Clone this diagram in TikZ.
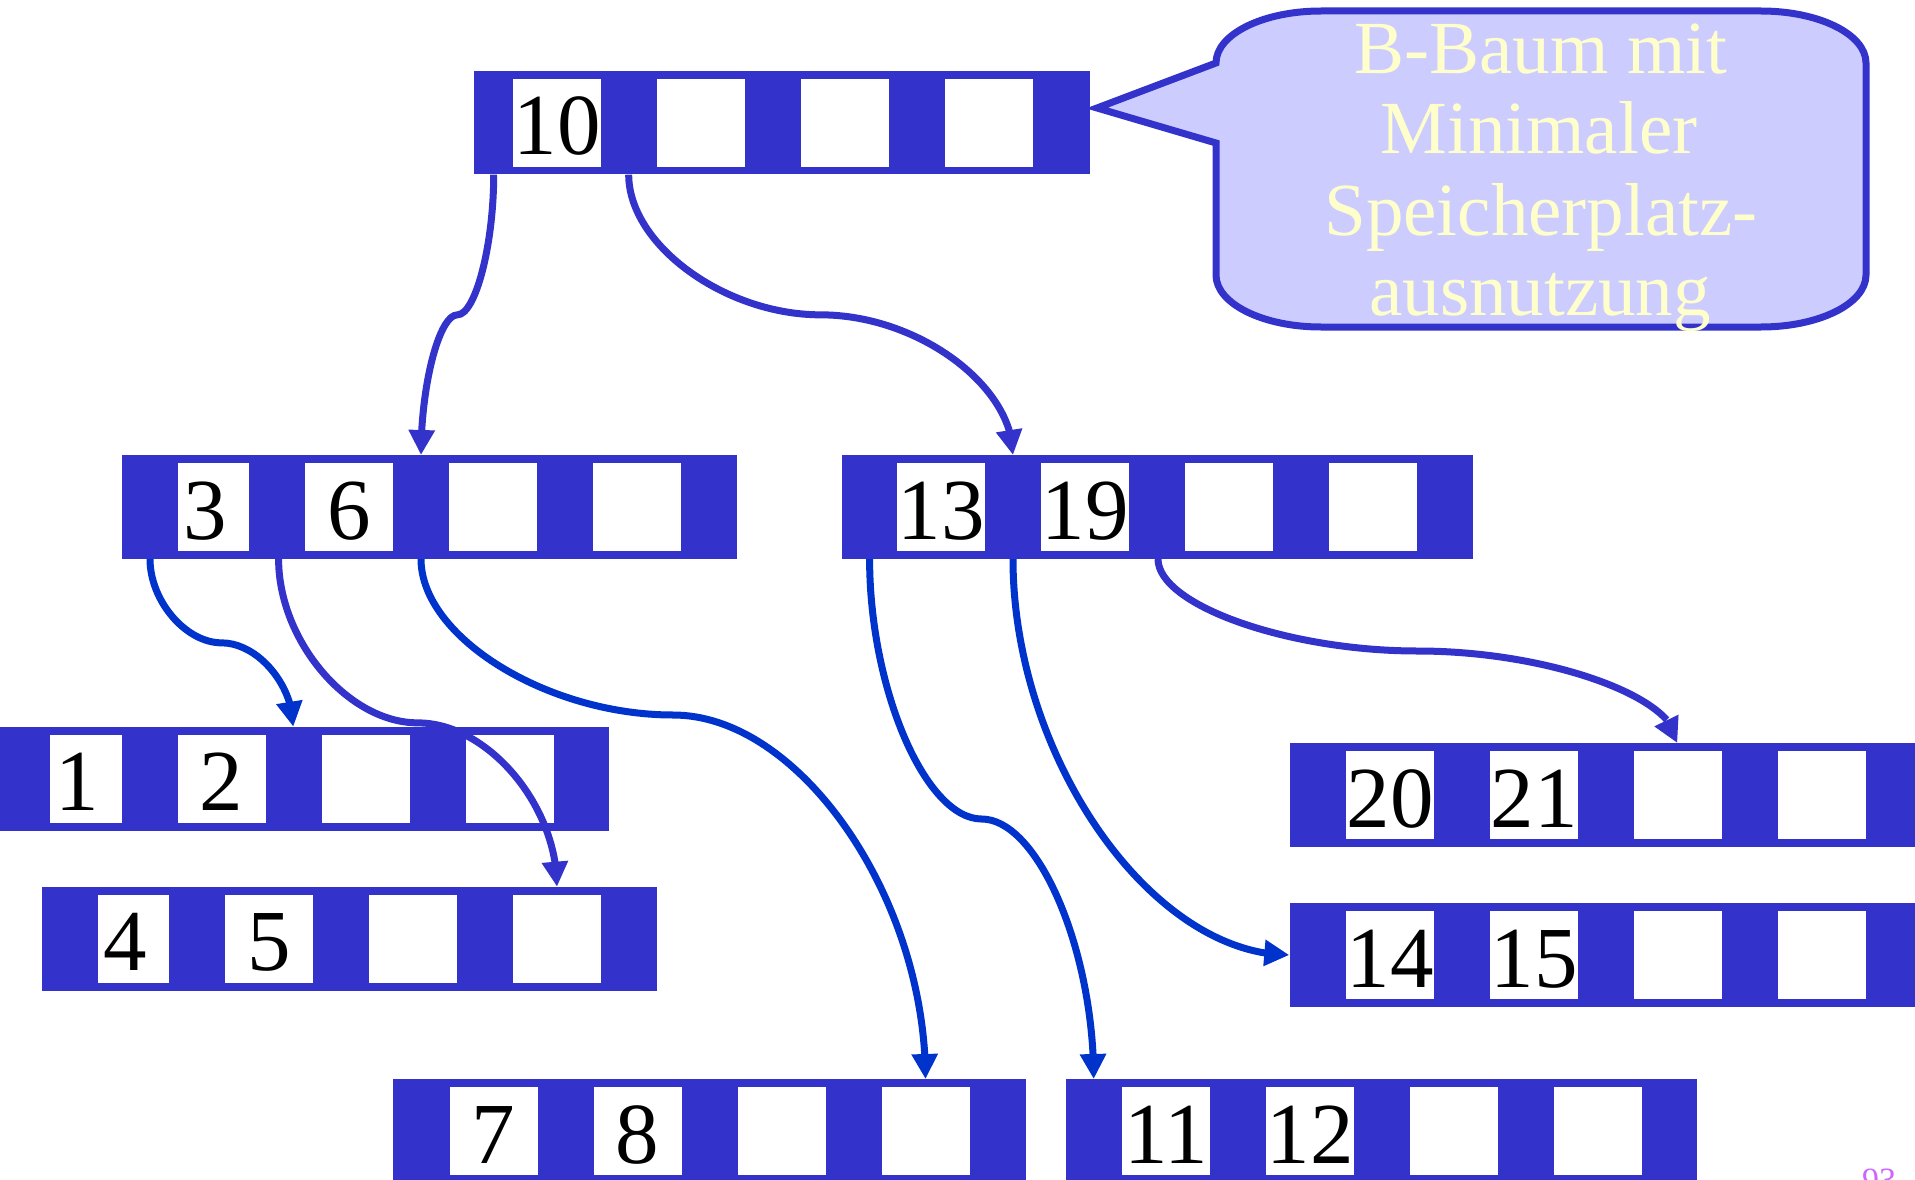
\documentclass[tikz,border=0pt]{standalone}
\usepackage{fontspec}
\setmainfont{Liberation Serif}
\usetikzlibrary{arrows.meta,bending,calc}
\definecolor{nodeblue}{HTML}{3333CC}
\definecolor{linkblue}{HTML}{0033CC}
\definecolor{calloutfill}{HTML}{CCCCFF}
\definecolor{callouttext}{HTML}{FFFFCC}
\definecolor{pagenum}{HTML}{CC66FF}
\tikzset{
  bnode/.style={rectangle, fill=nodeblue, draw=none, inner sep=0pt, minimum height=103.6pt, anchor=north west},
  cellbox/.style={rectangle, fill=white, draw=none, inner sep=0pt, minimum height=88pt, anchor=north west},
  keytext/.style={inner sep=0pt, anchor=base, font=\fontsize{87}{87}\selectfont, text=black},
  linkA/.style={draw=nodeblue, line width=7pt, -{Triangle[length=25pt,width=25pt,flex]}},
  linkB/.style={linkA, draw=linkblue},
  callbox/.style={draw=nodeblue, fill=calloutfill, line width=7pt, line join=miter},
  calltext/.style={inner sep=0pt, anchor=base, font=\fontsize{75}{80}\selectfont, text=callouttext},
  pagetext/.style={inner sep=0pt, anchor=base, font=\fontsize{34}{34}\selectfont, text=pagenum}
}
% #1 name, #2 left, #3 top, #4 left margin, #5 width, #6 narrowing of first cell, #7 key 1, #8 key 2
\newcommand\bnode[8]{%
  \node[bnode, minimum width=#5pt] (#1) at (#2,#3) {};
  \node[cellbox, minimum width={88-#6}] (#1-c0) at ({#2+#4+#6},{#3+8}) {};
  \node[cellbox, minimum width=88pt] (#1-c1) at ({#2+#4+144},{#3+8}) {};
  \node[cellbox, minimum width=88pt] (#1-c2) at ({#2+#4+288},{#3+8}) {};
  \node[cellbox, minimum width=88pt] (#1-c3) at ({#2+#4+432},{#3+8}) {};
  \node[keytext] (#1-k0) at ({#2+#4+44},{#3+84}) {#7};
  \if\relax\detokenize{#8}\relax\else
  \node[keytext] (#1-k1) at ({#2+#4+188},{#3+84}) {#8};
  \fi
}
% curved connector with vertical ends; #1 = position of the middle bend
\newcommand\vcurve[4][0.5]{%
  \draw[#2] let \p1=(#3), \p2=(#4), \p3=($(\p1)!#1!(\p2)$) in
    (\p1) .. controls (\x1,{(\y1+\y3)/2}) and ({(3*\x1+\x2)/4},\y3) ..
    ({(\x1+\x2)/2},\y3) .. controls ({(\x1+3*\x2)/4},\y3) and (\x2,{(\y3+\y2)/2}) .. (\p2);
}
\begin{document}
\begin{tikzpicture}[x=1pt,y=-1pt]
\useasboundingbox (0,0) rectangle (1915,1180);
\clip (0,0) rectangle (1915,1180);

\bnode{root}{473.7}{70.7}{39.3}{615.6}{0}{10}{}
\bnode{n36}{121.4}{455}{39.6}{615.2}{16.7}{3}{6}
\bnode{n1319}{842}{455}{55}{630.3}{0}{13}{19}
\bnode{n12}{-6}{726.7}{39.4}{615}{16}{1}{2}
\bnode{n45}{41.6}{886.7}{39.4}{615.4}{16.6}{4}{5}
\bnode{n2021}{1289.3}{743}{56.7}{640}{0}{20}{21}
\bnode{n1415}{1289.3}{903}{56.7}{640}{0}{14}{15}
\bnode{n78}{392.7}{1079}{56.8}{632.8}{0}{7}{8}
\bnode{n1112}{1065.3}{1079}{56.7}{631.7}{0}{11}{12}

% callout
\draw[callbox] (1097,108) -- (1216,63)
  arc[start angle=180,end angle=270,x radius=105,y radius=52] -- (1761,11)
  arc[start angle=270,end angle=360,x radius=105,y radius=52] -- (1866,275)
  arc[start angle=0,end angle=90,x radius=105,y radius=52] -- (1321,327)
  arc[start angle=90,end angle=180,x radius=105,y radius=52] -- (1216,143) -- cycle;
\node[calltext] (ct1) at (1541,74) {B-Baum mit};
\node[calltext] (ct2) at (1539,154) {Minimaler};
\node[calltext] (ct3) at (1541,235) {Speicherplatz-};
\node[calltext] (ct4) at (1540,315) {ausnutzung};

% pointer ends
\coordinate (s1) at ($(root.south west)+(20,0)$);
\coordinate (e1) at ($(n36.north west)+(299.6,0)$);
\coordinate (s2) at ($(root.south west)+(155,0)$);
\coordinate (e2) at ($(n1319.north west)+(171,0)$);
\coordinate (s3) at ($(n36.south west)+(28.6,0)$);
\coordinate (e3) at ($(n12.north west)+(299.3,0)$);
\coordinate (s4) at ($(n36.south west)+(157.2,0)$);
\coordinate (e4) at ($(n45.north west)+(515.4,0)$);
\coordinate (s5) at ($(n36.south west)+(299.6,0)$);
\coordinate (e5) at ($(n78.north west)+(532.8,0)$);
\coordinate (s6) at ($(n1319.south west)+(27.6,0)$);
\coordinate (e6) at ($(n1112.north west)+(28.4,0)$);
\coordinate (s7) at ($(n1319.south west)+(171,0)$);
\coordinate (s8) at ($(n1319.south west)+(316,0)$);
\coordinate (e8) at ($(n2021.north west)+(388,0)$);

\vcurve{linkA}{s1}{e1}
\vcurve{linkA}{s2}{e2}
\vcurve{linkB}{s3}{e3}
\vcurve{linkA}{s4}{e4}
\vcurve[0.3]{linkB}{s5}{e5}
\vcurve{linkB}{s6}{e6}
\draw[linkB] let \p1=(s7), \p2=(n1415.west) in
  (\p1) .. controls (\x1,{(\y1+\y2)/2}) and ({(\x1+\x2)/2},\y2) .. (\p2);
\vcurve{linkA}{s8}{e8}

\node[pagetext] (pg) at (1879,1191) {93};
\end{tikzpicture}
\end{document}
